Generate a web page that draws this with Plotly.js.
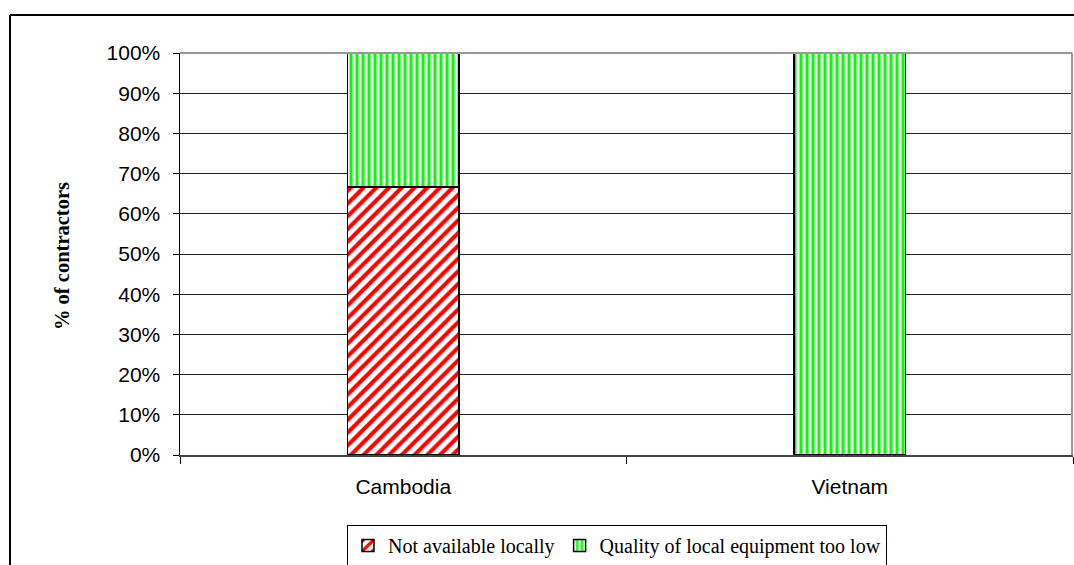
<!DOCTYPE html>
<html><head><meta charset="utf-8">
<script src="https://cdn.plot.ly/plotly-3.0.1.min.js"></script>
<style>html,body{margin:0;padding:0;background:#fff;}#chart{width:1074px;height:565px;}</style>
</head><body><div id="chart"></div>
<script>
var categories = ["Cambodia", "Vietnam"];
var notAvailable = [66.67, 0];
var qualityTooLow = [33.33, 100];
var seriesNames = ["Not available locally", "Quality of local equipment too low"];
var yTickVals = [0,10,20,30,40,50,60,70,80,90,100];
var yTickText = ["0%","10%","20%","30%","40%","50%","60%","70%","80%","90%","100%"];

var traces = [
  {type:'bar', name: seriesNames[0], x: categories, y: notAvailable, width: 0.25,
   marker:{color:'#ffffff', line:{color:'#000', width:1.5},
     pattern:{shape:'/', fgcolor:'#ff0000', bgcolor:'#ffffff', size:9, solidity:0.45}}},
  {type:'bar', name: seriesNames[1], x: categories, y: qualityTooLow, width: 0.25,
   marker:{color:'#ffffff', line:{color:'#000', width:1.5},
     pattern:{shape:'|', fgcolor:'#00ff00', bgcolor:'#ffffff', size:6, solidity:0.5}}}
];

var L = 180, R = 1, T = 53, B = 110, W = 1074 - L - R, H = 565 - T - B;
function px(x){return (x - L)/W;}
function py(y){return (565 - B - y)/H;}

var layout = {
  width:1074, height:565,
  margin:{l:L, r:R, t:T, b:B, pad:0, autoexpand:false},
  paper_bgcolor:'#fff', plot_bgcolor:'#fff',
  barmode:'stack',
  showlegend:true,
  font:{family:'Liberation Sans, Arial, sans-serif', color:'#000', size:21},
  xaxis:{type:'category', tickson:'boundaries', ticks:'outside', ticklen:7, tickcolor:'#000',
    showline:true, linecolor:'#444', linewidth:2, showgrid:false, zeroline:false,
    ticklabelstandoff:12, automargin:false,
    tickfont:{family:'Liberation Sans, Arial, sans-serif', size:21, color:'#000'}, fixedrange:true},
  yaxis:{range:[0,100], tickvals:yTickVals, ticktext:yTickText, ticks:'outside', ticklen:6, tickcolor:'#000',
    showline:true, linecolor:'#000', linewidth:1.5, showgrid:true, gridcolor:'#222', gridwidth:1,
    zeroline:false, ticklabelstandoff:8, automargin:false,
    tickfont:{family:'Liberation Sans, Arial, sans-serif', size:21, color:'#000'}, fixedrange:true},
  legend:{orientation:'h', x:px(617), xanchor:'center', y:py(525), yanchor:'top',
    bordercolor:'#000', borderwidth:1, bgcolor:'#fff',
    font:{family:'Liberation Serif, Times New Roman, serif', size:20, color:'#000'},
    traceorder:'normal', itemwidth:30},
  annotations:[{text:'<b>% of contractors</b>', textangle:-90, xref:'paper', yref:'paper',
    x:px(62), y:py(256), xanchor:'center', yanchor:'middle', showarrow:false,
    font:{family:'Liberation Serif, Times New Roman, serif', size:20.5, color:'#000'}}],
  shapes:[
    {type:'line', xref:'paper', yref:'paper', x0:px(10), x1:px(1080), y0:py(15), y1:py(15), line:{color:'#000', width:2}},
    {type:'line', xref:'paper', yref:'paper', x0:px(10), x1:px(10), y0:py(15), y1:py(600), line:{color:'#000', width:2}},
    {type:'line', xref:'paper', yref:'paper', x0:px(1072), x1:px(1072), y0:py(53), y1:py(455), line:{color:'#999', width:2}},
    {type:'line', xref:'paper', yref:'paper', x0:px(180), x1:px(1072), y0:py(53), y1:py(53), line:{color:'#999', width:2}}
  ]
};
Plotly.newPlot('chart', traces, layout, {displayModeBar:false, staticPlot:true});
</script></body></html>
